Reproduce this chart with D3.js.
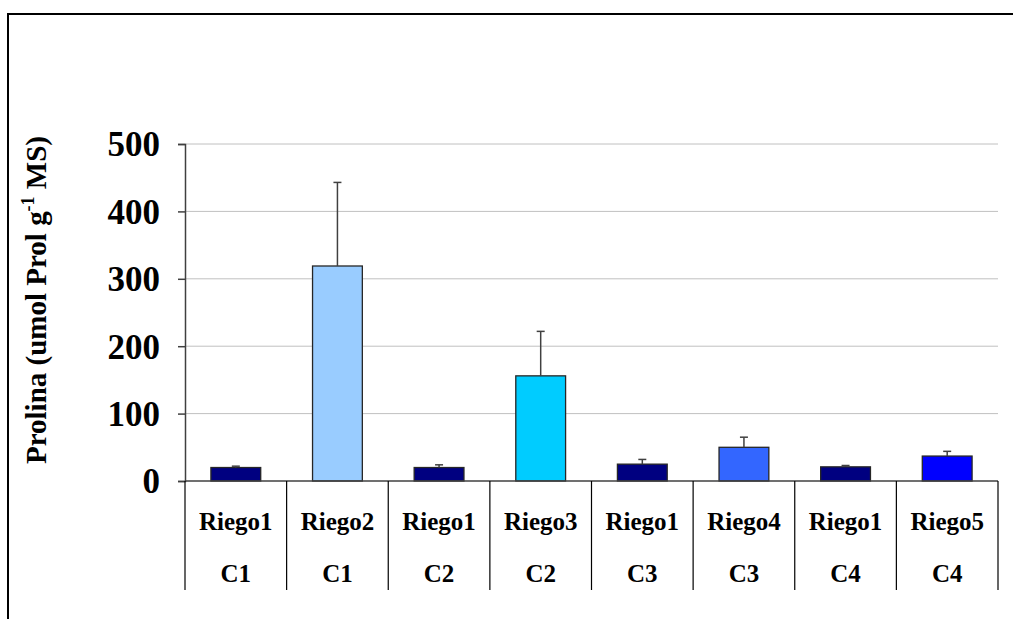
<!DOCTYPE html>
<html><head><meta charset="utf-8">
<script src="https://cdn.jsdelivr.net/npm/d3@7/dist/d3.min.js"></script>
<style>body{margin:0;background:#fff}svg{display:block}</style>
</head><body>
<script>
const treatments = ["Riego1","Riego2","Riego1","Riego3","Riego1","Riego4","Riego1","Riego5"];
const groups = ["C1","C1","C2","C2","C3","C3","C4","C4"];
const values = [20, 319, 20, 156, 25, 50, 21, 37];
const errors = [2, 124, 4, 66, 7, 15, 2, 7];
const colors = ["#000080","#99ccff","#000080","#00ccff","#000080","#3366ff","#000080","#0000ff"];
const yTicks = [0,100,200,300,400,500];

const W = 1013, H = 619;
const svg = d3.select("body").append("svg").attr("width", W).attr("height", H);
const font = "'Liberation Serif','Times New Roman',serif";

svg.append("rect").attr("x",8).attr("y",14).attr("width",1030).attr("height",640)
  .attr("fill","none").attr("stroke","#000").attr("stroke-width",2);

const x0 = 185, x1 = 998, yTop = 144, yBot = 481;
const idx = d3.range(values.length);
const x = d3.scaleBand().domain(idx).range([x0, x1]).padding(0);
const y = d3.scaleLinear().domain([0, 500]).range([yBot, yTop]);

// gridlines
svg.append("g").selectAll("line").data(yTicks.filter(d => d > 0)).join("line")
  .attr("x1", x0).attr("x2", x1).attr("y1", d => y(d)).attr("y2", d => y(d))
  .attr("stroke", "#c0c0c0").attr("stroke-width", 1);

// y axis
const yAxis = svg.append("g").attr("transform", `translate(${x0},0)`)
  .call(d3.axisLeft(y).tickValues(yTicks).tickSize(7).tickPadding(18).tickFormat(d3.format("d")));
yAxis.select(".domain").attr("stroke", "#404040").attr("stroke-width", 1.5);
yAxis.selectAll(".tick line").attr("stroke", "#404040").attr("stroke-width", 1.5);
yAxis.selectAll(".tick text").attr("font-family", font).attr("font-weight", "bold")
  .attr("font-size", 35).attr("fill", "#000").attr("dy", "0.34em");

// bars
const bw = x.bandwidth() * 0.49;
svg.append("g").selectAll("rect").data(idx).join("rect")
  .attr("x", i => x(i) + x.bandwidth()/2 - bw/2)
  .attr("y", i => y(values[i]))
  .attr("width", bw)
  .attr("height", i => y(0) - y(values[i]))
  .attr("fill", i => colors[i])
  .attr("stroke", "#262626").attr("stroke-width", 1.3);

// error bars
const eb = svg.append("g").attr("stroke", "#404040").attr("stroke-width", 1.5);
idx.forEach(i => {
  const cx = x(i) + x.bandwidth()/2;
  eb.append("line").attr("x1", cx).attr("x2", cx)
    .attr("y1", y(values[i])).attr("y2", y(values[i] + errors[i]));
  eb.append("line").attr("x1", cx - 4).attr("x2", cx + 4)
    .attr("y1", y(values[i] + errors[i])).attr("y2", y(values[i] + errors[i]));
});

// x axis line
svg.append("line").attr("x1", x0).attr("x2", x1).attr("y1", yBot).attr("y2", yBot)
  .attr("stroke", "#404040").attr("stroke-width", 1.5);

// category dividers
const bounds = idx.map(i => x(i)).concat([x1]);
svg.append("g").selectAll("line").data(bounds).join("line")
  .attr("x1", d => d).attr("x2", d => d).attr("y1", yBot).attr("y2", 590)
  .attr("stroke", "#000").attr("stroke-width", 1.2);

// labels
const lab = svg.append("g").attr("font-family", font).attr("font-weight", "bold")
  .attr("font-size", 25).attr("text-anchor", "middle").attr("fill", "#000");
lab.selectAll("text.t").data(idx).join("text").attr("class","t")
  .attr("x", i => x(i) + x.bandwidth()/2).attr("y", 530).text(i => treatments[i]);
lab.selectAll("text.g").data(idx).join("text").attr("class","g")
  .attr("x", i => x(i) + x.bandwidth()/2).attr("y", 582).text(i => groups[i]);

// y title
const yt = svg.append("text").attr("transform", "translate(46,300) rotate(-90)")
  .attr("font-family", font).attr("font-weight", "bold").attr("font-size", 29)
  .attr("text-anchor", "middle").attr("fill", "#000");
yt.append("tspan").text("Prolina (umol Prol g");
yt.append("tspan").attr("font-size", 18).attr("dy", -12).text("-1");
yt.append("tspan").attr("dy", 12).text(" MS)");
</script>
</body></html>
